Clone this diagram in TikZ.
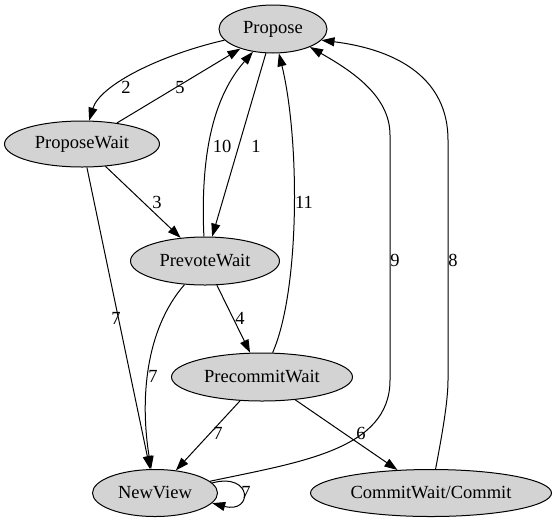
\documentclass[tikz,border=0pt]{standalone}
\usepackage{fontspec}
\setmainfont{Liberation Serif}
\usetikzlibrary{shapes.geometric,arrows.meta}
\begin{document}
\begin{tikzpicture}[x=1pt,y=-1pt,
  state/.style={ellipse,draw=black,fill={rgb,255:red,211;green,211;blue,211},line width=1pt,inner sep=0pt,font=\fontsize{18.5}{20}\selectfont},
  edge/.style={draw=black,line width=1pt,-{Triangle[length=13pt,width=9pt]}},
  lbl/.style={inner sep=0pt,font=\fontsize{18.5}{20}\selectfont}]
\useasboundingbox (0,0) rectangle (556,523);
\node[state,minimum width=108pt,minimum height=48pt] (propose) at (273,29) {Propose};
\node[state,minimum width=155pt,minimum height=46pt] (pwait) at (82,144) {ProposeWait};
\node[state,minimum width=149pt,minimum height=48pt] (prevote) at (205,261) {PrevoteWait};
\node[state,minimum width=181pt,minimum height=48pt] (precommit) at (262,377) {PrecommitWait};
\node[state,minimum width=125pt,minimum height=47pt] (newview) at (155,493) {NewView};
\node[state,minimum width=241pt,minimum height=47pt] (commit) at (431,493) {CommitWait/Commit};

\draw[edge] (propose) .. controls (160,55) and (100,85) .. (pwait);
\draw[edge] (pwait) -- (propose);
\draw[edge] (prevote) .. controls (200,150) and (215,95) .. (propose);
\draw[edge] (propose) -- (prevote);
\draw[edge] (precommit) .. controls (300,290) and (300,140) .. (propose);
\draw[edge] (newview) .. controls (300,462) and (390,450) .. (390,380) -- (390,135) .. controls (390,95) and (350,70) .. (propose.-26);
\draw[edge] (commit) .. controls (443,430) and (448,400) .. (448,380) -- (448,140) .. controls (448,80) and (400,50) .. (propose.-13);
\draw[edge] (pwait) -- (prevote);
\draw[edge] (pwait) -- (newview);
\draw[edge] (prevote) .. controls (145,330) and (140,400) .. (newview);
\draw[edge] (prevote) -- (precommit);
\draw[edge] (precommit) -- (newview);
\draw[edge] (precommit) -- (commit);
\draw[edge] (newview.10) .. controls (253,472) and (253,514) .. (newview.-10);

\node[lbl] (l2) at (126,87) {2};
\node[lbl] (l5) at (180,88) {5};
\node[lbl] (l10) at (222,146) {10};
\node[lbl] (l1) at (256,146) {1};
\node[lbl] (l3) at (157,202) {3};
\node[lbl] (l11) at (304,202) {11};
\node[lbl] (l7a) at (116,318) {7};
\node[lbl] (l4) at (240,318) {4};
\node[lbl] (l7b) at (153,376) {7};
\node[lbl] (l9) at (395,260) {9};
\node[lbl] (l8) at (453,260) {8};
\node[lbl] (l7c) at (218,433) {7};
\node[lbl] (l6) at (361,433) {6};
\node[lbl] (l7d) at (246,492) {7};
\end{tikzpicture}
\end{document}
